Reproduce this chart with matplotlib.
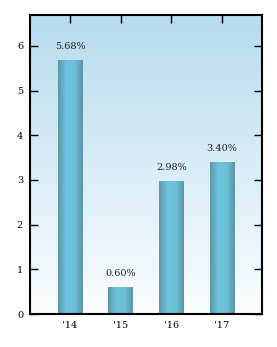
import numpy as np
import matplotlib
matplotlib.use("Agg")
import matplotlib.pyplot as plt
from matplotlib.colors import LinearSegmentedColormap

years = ["'14", "'15", "'16", "'17"]
values = [5.68, 0.60, 2.98, 3.40]
labels = ["5.68%", "0.60%", "2.98%", "3.40%"]

plt.rcParams["font.family"] = "DejaVu Serif"
plt.rcParams["font.size"] = 7

fig = plt.figure(figsize=(2.77, 3.47), dpi=100)
ax = fig.add_axes([30 / 277, 33 / 347, 232 / 277, 299 / 347])

x = np.arange(len(years))
ax.set_xlim(-0.79, 3.79)
ax.set_ylim(0, 6.69)

# background gradient: light blue at top, white at bottom
bg = LinearSegmentedColormap.from_list("bg", ["#fbfdff", "#b6dcef"])
grad = np.linspace(0, 1, 256).reshape(-1, 1)
ax.imshow(grad, cmap=bg, aspect="auto", origin="lower",
          extent=[-0.79, 3.79, 0, 6.69], zorder=0)

bars = ax.bar(x, values, width=0.49, color="none", edgecolor="none", zorder=2)

# horizontal gradient inside each bar
barmap = LinearSegmentedColormap.from_list(
    "bar", ["#5b97a6", "#6cc3dd", "#6ac0d8", "#5b95a3"])
hgrad = np.linspace(0, 1, 256).reshape(1, -1)
for b in bars:
    x0, y0 = b.get_x(), b.get_y()
    im = ax.imshow(hgrad, cmap=barmap, aspect="auto",
                   extent=[x0, x0 + b.get_width(), y0, y0 + b.get_height()],
                   zorder=2)
    im.set_clip_path(b)

for xi, v, lab in zip(x, values, labels):
    ax.text(xi, v + 0.2, lab, ha="center", va="bottom", color="#222222")

ax.set_xlim(-0.79, 3.79)
ax.set_ylim(0, 6.69)
ax.set_xticks(x)
ax.set_xticklabels(years)
ax.set_yticks(range(7))
ax.tick_params(direction="in", top=True, right=True, length=6, width=1,
               labelsize=7, pad=5, colors="black")
for s in ax.spines.values():
    s.set_linewidth(1.5)

fig.savefig("out.png", dpi=100)
